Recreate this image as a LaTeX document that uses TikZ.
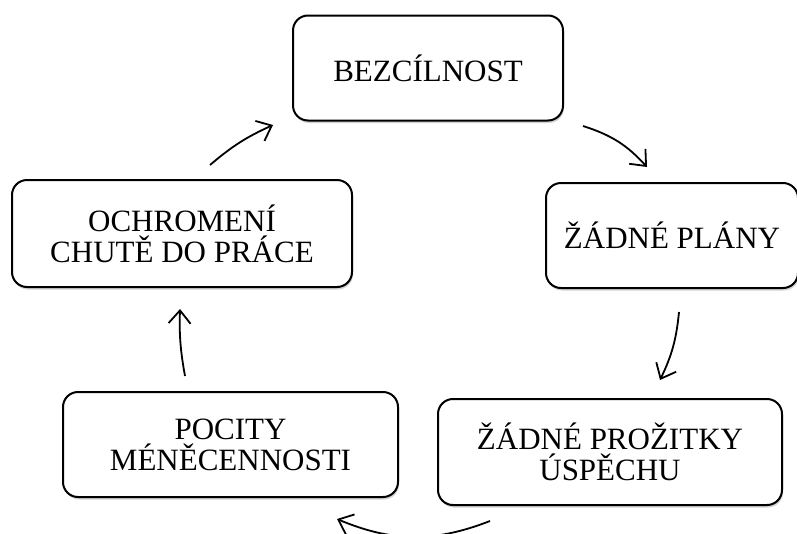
\documentclass[tikz,border=0pt]{standalone}
\usepackage{fontspec}
\setmainfont{Liberation Serif}
\usetikzlibrary{shadows,arrows.meta}
\begin{document}
\begin{tikzpicture}[x=1pt,y=1pt,
  box/.style={draw=black, line width=2pt, rounded corners=15pt, fill=white,
    drop shadow={opacity=0.35, shadow xshift=1pt, shadow yshift=-2.5pt, fill=gray},
    align=center, font=\fontsize{31}{31}\selectfont, inner sep=0pt},
  arr/.style={line width=1.8pt, -{Straight Barb[length=13pt,width=22pt,line width=1.8pt]}}]
\clip (0,0) rectangle (797,-533);
\fill[white] (0,0) rectangle (797,-533);
\node[box, minimum width=270pt, minimum height=105pt] (bez) at (428,-68) {BEZCÍLNOST};
\node[box, minimum width=252pt, minimum height=105pt] (plany) at (672,-235.5) {ŽÁDNÉ PLÁNY};
\node[box, minimum width=344pt, minimum height=106pt] (uspech) at (610,-452) {ŽÁDNÉ PROŽITKY\\ÚSPĚCHU};
\node[box, minimum width=335pt, minimum height=105pt] (pocity) at (230.5,-444.5) {POCITY\\MÉNĚCENNOSTI};
\node[box, minimum width=340pt, minimum height=107pt] (ochrom) at (182,-233.5) {OCHROMENÍ\\CHUTĚ DO PRÁCE};
\coordinate (a1s) at (583,-126);
\coordinate (a1e) at (647,-167);
\coordinate (a2s) at (679,-312);
\coordinate (a2e) at (660,-380);
\coordinate (a3s) at (490,-521);
\coordinate (a3e) at (337,-519);
\coordinate (a4s) at (185,-376);
\coordinate (a4e) at (180,-309);
\coordinate (a5s) at (210,-165);
\coordinate (a5e) at (273,-125);
\draw[arr] (a1s) to[bend left=15] (a1e);
\draw[arr] (a2s) to[bend left=10] (a2e);
\draw[arr] (a3s) to[bend left=22] (a3e);
\draw[arr] (a4s) to[bend left=6] (a4e);
\draw[arr] (a5s) to[bend left=8] (a5e);
\end{tikzpicture}
\end{document}
